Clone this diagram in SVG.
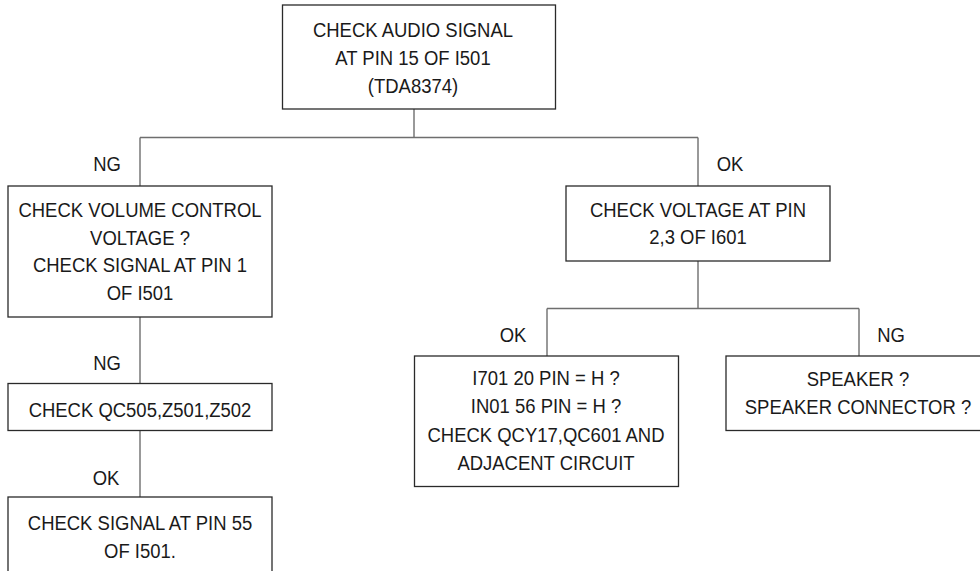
<svg xmlns="http://www.w3.org/2000/svg" width="980" height="571" viewBox="0 0 980 571">
<style>
.bg{fill:#fff}
.box{fill:#fff;stroke:#2a2a2a;stroke-width:1.3}
.c{stroke:#6e6e6e;stroke-width:1.4;fill:none}
.t{font-family:"Liberation Sans",Arial,sans-serif;font-size:21px;fill:#1a1a1a;text-anchor:middle}
</style>
<rect class="bg" x="0" y="0" width="980" height="571"/>
<g id="connectors">
<line class="c" x1="414" y1="109" x2="414" y2="137.5"/>
<line class="c" x1="140" y1="137.5" x2="698" y2="137.5"/>
<line class="c" x1="140" y1="137.5" x2="140" y2="186"/>
<line class="c" x1="698" y1="137.5" x2="698" y2="186"/>
<line class="c" x1="140" y1="317" x2="140" y2="383.5"/>
<line class="c" x1="140" y1="430.5" x2="140" y2="497"/>
<line class="c" x1="698" y1="261" x2="698" y2="308.5"/>
<line class="c" x1="547" y1="308.5" x2="859" y2="308.5"/>
<line class="c" x1="547" y1="308.5" x2="547" y2="356"/>
<line class="c" x1="859" y1="308.5" x2="859" y2="356"/>
<text class="t" transform="translate(107,171) scale(0.88,1)">NG</text>
<text class="t" transform="translate(730,171) scale(0.88,1)">OK</text>
<text class="t" transform="translate(107,370) scale(0.88,1)">NG</text>
<text class="t" transform="translate(106,485) scale(0.88,1)">OK</text>
<text class="t" transform="translate(513,342) scale(0.88,1)">OK</text>
<text class="t" transform="translate(891,342) scale(0.88,1)">NG</text>
</g>
<g id="n_audio">
<rect class="box" x="282.5" y="5" width="273" height="104"/>
<text class="t" transform="translate(413,37) scale(0.88,1)">CHECK AUDIO SIGNAL</text>
<text class="t" transform="translate(413,65) scale(0.88,1)">AT PIN 15 OF I501</text>
<text class="t" transform="translate(413,93) scale(0.88,1)">(TDA8374)</text>
</g>
<g id="n_volume">
<rect class="box" x="8" y="186" width="264" height="131"/>
<text class="t" transform="translate(140,217) scale(0.88,1)">CHECK VOLUME CONTROL</text>
<text class="t" transform="translate(140,244.5) scale(0.88,1)">VOLTAGE ?</text>
<text class="t" transform="translate(140,272) scale(0.88,1)">CHECK SIGNAL AT PIN 1</text>
<text class="t" transform="translate(140,300) scale(0.88,1)">OF I501</text>
</g>
<g id="n_qc505">
<rect class="box" x="8" y="383.5" width="264" height="47"/>
<text class="t" transform="translate(140,417) scale(0.88,1)">CHECK QC505,Z501,Z502</text>
</g>
<g id="n_pin55">
<rect class="box" x="8" y="497" width="264" height="90"/>
<text class="t" transform="translate(140,530) scale(0.88,1)">CHECK SIGNAL AT PIN 55</text>
<text class="t" transform="translate(140,558) scale(0.88,1)">OF I501.</text>
</g>
<g id="n_voltage">
<rect class="box" x="566" y="186" width="264" height="75"/>
<text class="t" transform="translate(698,216.5) scale(0.88,1)">CHECK VOLTAGE AT PIN</text>
<text class="t" transform="translate(698,244) scale(0.88,1)">2,3 OF I601</text>
</g>
<g id="n_i701">
<rect class="box" x="414.5" y="356" width="264" height="130.5"/>
<text class="t" transform="translate(546,385) scale(0.88,1)">I701 20 PIN = H ?</text>
<text class="t" transform="translate(546,413) scale(0.88,1)">IN01 56 PIN = H ?</text>
<text class="t" transform="translate(546,441.5) scale(0.88,1)">CHECK QCY17,QC601 AND</text>
<text class="t" transform="translate(546,470) scale(0.88,1)">ADJACENT CIRCUIT</text>
</g>
<g id="n_speaker">
<rect class="box" x="726" y="356" width="270" height="74.5"/>
<text class="t" transform="translate(858,386) scale(0.88,1)">SPEAKER ?</text>
<text class="t" transform="translate(858,414) scale(0.88,1)">SPEAKER CONNECTOR ?</text>
</g>
</svg>
